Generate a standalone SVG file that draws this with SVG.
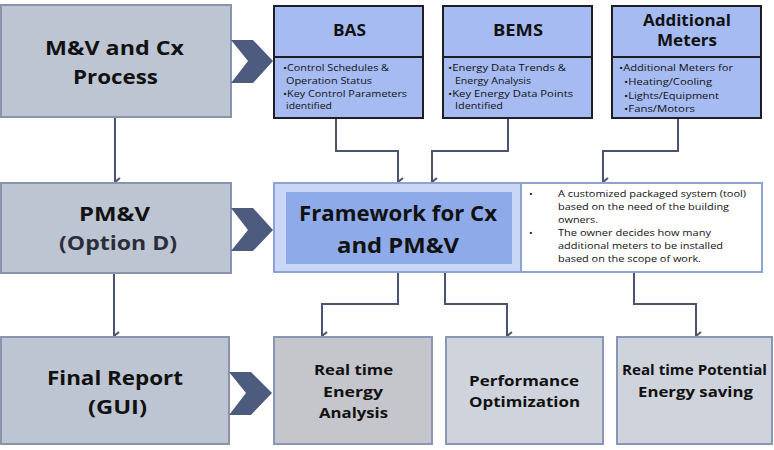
<svg xmlns="http://www.w3.org/2000/svg" width="774" height="450" viewBox="0 0 774 450">
<defs>
<style>
.gbox{fill:#bec5d2;stroke:#8a95ad;stroke-width:2}
.chev{fill:#4d5c7e}
.tbox{fill:#a6bbf2;stroke:#1e1e24;stroke-width:2}
.bbox{fill:#cfd3dc;stroke:#8a96b8;stroke-width:2}
.conn{fill:none;stroke:#4a5470;stroke-width:2;marker-end:url(#ah)}
text{font-family:"Open Sans","Liberation Sans",sans-serif;fill:#111}
.big{font-weight:bold;font-size:19px;text-anchor:middle}
.sub{fill:#2b2e3a}
.hdr{font-weight:bold;font-size:15.5px;text-anchor:middle}
.body{font-size:9.8px}
.note{font-size:9.8px}
.bt{font-weight:bold;font-size:15px;text-anchor:middle}
</style>
<marker id="ah" viewBox="0 0 10 10" refX="5" refY="9" markerWidth="10" markerHeight="10" markerUnits="userSpaceOnUse" orient="auto-start-reverse">
<path d="M1,4 L5,9 L9,4" fill="none" stroke="#4a5470" stroke-width="2"/>
</marker>
</defs>
<rect width="774" height="450" fill="#ffffff"/>

<g id="connectors">
<path class="conn" d="M115,117 V182"/>
<path class="conn" d="M114,273 V336"/>
<path class="conn" d="M336,118 V151 H398 V182"/>
<path class="conn" d="M508,118 V151 H432 V182"/>
<path class="conn" d="M678,118 V151 H603 V182"/>
<path class="conn" d="M398,272 V304 H322 V336"/>
<path class="conn" d="M445,272 V304 H507 V336"/>
<path class="conn" d="M634,272 V304 H696 V336"/>
</g>

<g id="mv-cx">
<rect class="gbox" x="1" y="5" width="230" height="112"/>
<text class="big" x="114.5" y="55" textLength="139" lengthAdjust="spacingAndGlyphs">M&amp;V and Cx</text>
<text class="big" x="115.5" y="84" textLength="85" lengthAdjust="spacingAndGlyphs">Process</text>
<polygon class="chev" points="231,40 253,40 273,61 253,83 231,83 248,61"/>
</g>

<g id="pmv">
<rect class="gbox" x="1" y="183" width="230" height="90"/>
<text class="big" x="114.5" y="221" textLength="71" lengthAdjust="spacingAndGlyphs">PM&amp;V</text>
<text class="big sub" x="118" y="250" textLength="118" lengthAdjust="spacingAndGlyphs">(Option D)</text>
<polygon class="chev" points="231,208 253,208 273,230 253,251 231,251 248,230"/>
</g>

<g id="final-report">
<rect class="gbox" x="1" y="337" width="228" height="107"/>
<text class="big" x="115" y="385" textLength="136" lengthAdjust="spacingAndGlyphs">Final Report</text>
<text class="big" x="117.5" y="414" textLength="59" lengthAdjust="spacingAndGlyphs">(GUI)</text>
<polygon class="chev" points="229,372 251,372 272,393 251,415 229,415 246,393"/>
</g>

<g id="bas">
<rect class="tbox" x="274" y="6" width="149" height="112"/>
<line x1="274" y1="57" x2="423" y2="57" stroke="#1e1e24" stroke-width="2"/>
<text class="hdr" x="349.5" y="36" textLength="33" lengthAdjust="spacingAndGlyphs">BAS</text>
<text class="body" x="283" y="71" textLength="106" lengthAdjust="spacingAndGlyphs">•Control Schedules &amp;</text>
<text class="body" x="286" y="84" textLength="86" lengthAdjust="spacingAndGlyphs">Operation Status</text>
<text class="body" x="283" y="97" textLength="124" lengthAdjust="spacingAndGlyphs">•Key Control Parameters</text>
<text class="body" x="286" y="109" textLength="46" lengthAdjust="spacingAndGlyphs">identified</text>
</g>

<g id="bems">
<rect class="tbox" x="443" y="6" width="149" height="112"/>
<line x1="443" y1="57" x2="592" y2="57" stroke="#1e1e24" stroke-width="2"/>
<text class="hdr" x="518" y="36" textLength="50" lengthAdjust="spacingAndGlyphs">BEMS</text>
<text class="body" x="448" y="71" textLength="118" lengthAdjust="spacingAndGlyphs">•Energy Data Trends &amp;</text>
<text class="body" x="455" y="84" textLength="76" lengthAdjust="spacingAndGlyphs">Energy Analysis</text>
<text class="body" x="448" y="97" textLength="125" lengthAdjust="spacingAndGlyphs">•Key Energy Data Points</text>
<text class="body" x="455" y="109" textLength="48" lengthAdjust="spacingAndGlyphs">Identified</text>
</g>

<g id="additional-meters">
<rect class="tbox" x="612" y="6" width="149" height="112"/>
<line x1="612" y1="57" x2="761" y2="57" stroke="#1e1e24" stroke-width="2"/>
<text class="hdr" x="687" y="26" textLength="88" lengthAdjust="spacingAndGlyphs">Additional</text>
<text class="hdr" x="687" y="46" textLength="60" lengthAdjust="spacingAndGlyphs">Meters</text>
<text class="body" x="619" y="71" textLength="114" lengthAdjust="spacingAndGlyphs">•Additional Meters for</text>
<text class="body" x="624" y="85" textLength="88" lengthAdjust="spacingAndGlyphs">•Heating/Cooling</text>
<text class="body" x="624" y="99" textLength="95" lengthAdjust="spacingAndGlyphs">•Lights/Equipment</text>
<text class="body" x="624" y="112" textLength="71" lengthAdjust="spacingAndGlyphs">•Fans/Motors</text>
</g>

<g id="framework">
<rect x="274" y="183" width="247" height="89" fill="#cad6f5" stroke="#8ea2d6" stroke-width="2"/>
<rect x="286" y="192" width="226" height="72" fill="#8eaae8"/>
<text class="big" x="398" y="221" style="font-size:21px" textLength="198" lengthAdjust="spacingAndGlyphs">Framework for Cx</text>
<text class="big" x="398" y="253" style="font-size:21px" textLength="122" lengthAdjust="spacingAndGlyphs">and PM&amp;V</text>
</g>

<g id="note">
<rect x="521" y="183" width="241" height="89" fill="#ffffff" stroke="#8ea2d6" stroke-width="2"/>
<text class="note" x="529" y="197">•</text>
<text class="note" x="558" y="197" textLength="188" lengthAdjust="spacingAndGlyphs">A customized packaged system (tool)</text>
<text class="note" x="558" y="210" textLength="171" lengthAdjust="spacingAndGlyphs">based on the need of the building</text>
<text class="note" x="558" y="223" textLength="40" lengthAdjust="spacingAndGlyphs">owners.</text>
<text class="note" x="529" y="236">•</text>
<text class="note" x="558" y="236" textLength="153" lengthAdjust="spacingAndGlyphs">The owner decides how many</text>
<text class="note" x="558" y="249" textLength="165" lengthAdjust="spacingAndGlyphs">additional meters to be installed</text>
<text class="note" x="558" y="262" textLength="143" lengthAdjust="spacingAndGlyphs">based on the scope of work.</text>
</g>

<g id="real-time-energy">
<rect class="bbox" x="274" y="337" width="158" height="107" style="fill:#c4c6cc"/>
<text class="bt" x="353.5" y="375" textLength="79" lengthAdjust="spacingAndGlyphs">Real time</text>
<text class="bt" x="353" y="397" textLength="60" lengthAdjust="spacingAndGlyphs">Energy</text>
<text class="bt" x="353.5" y="418" textLength="69" lengthAdjust="spacingAndGlyphs">Analysis</text>
</g>

<g id="performance">
<rect class="bbox" x="446" y="337" width="157" height="107"/>
<text class="bt" x="524" y="386" textLength="110" lengthAdjust="spacingAndGlyphs">Performance</text>
<text class="bt" x="524.5" y="407" textLength="111" lengthAdjust="spacingAndGlyphs">Optimization</text>
</g>

<g id="potential-saving">
<rect class="bbox" x="617" y="337" width="155" height="107"/>
<text class="bt" x="694.5" y="375" textLength="145" lengthAdjust="spacingAndGlyphs">Real time Potential</text>
<text class="bt" x="695.5" y="397" textLength="115" lengthAdjust="spacingAndGlyphs">Energy saving</text>
</g>
</svg>
